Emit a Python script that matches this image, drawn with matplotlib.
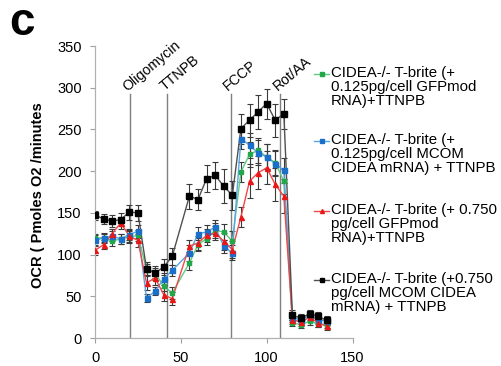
import matplotlib
matplotlib.use("Agg")
import matplotlib.pyplot as plt
from matplotlib.lines import Line2D

plt.rcParams['font.family'] = ['Liberation Sans', 'DejaVu Sans']

# ---- data ----
time_min = [0, 5, 10, 15, 20, 25, 30, 35, 40, 45, 55, 60, 65, 70, 75, 80, 85,
            90, 95, 100, 105, 110, 115, 120, 125, 130, 135]

green_vals = [120, 120, 116, 119, 121, 123, 82, 78, 62, 54, 90, 112, 119, 129, 127, 116,
              199, 220, 225, 217, 210, 188, 18, 16, 20, 17, 16]
green_err = [5, 5, 6, 6, 7, 7, 7, 6, 6, 7, 9, 8, 8, 9, 10, 12, 12, 15, 15, 15, 15, 15, 4, 4, 4, 4, 4]

blue_vals = [117, 120, 122, 119, 124, 128, 48, 56, 71, 81, 102, 125, 127, 133, 110, 102,
             239, 231, 222, 217, 209, 201, 24, 22, 27, 22, 20]
blue_err = [6, 6, 6, 6, 7, 8, 5, 5, 7, 7, 10, 8, 8, 8, 8, 9, 12, 15, 15, 15, 15, 15, 5, 5, 5, 5, 5]

red_vals = [105, 112, 125, 138, 122, 117, 66, 72, 52, 47, 110, 114, 123, 126, 116, 106,
            145, 188, 198, 204, 184, 170, 22, 19, 25, 18, 14]
red_err = [5, 5, 6, 7, 7, 8, 8, 8, 8, 8, 7, 8, 8, 8, 10, 10, 12, 20, 20, 20, 20, 20, 5, 5, 5, 5, 5]

black_vals = [147, 143, 140, 142, 151, 150, 83, 78, 85, 98, 170, 166, 191, 195, 182, 171,
              251, 261, 271, 281, 261, 269, 27, 24, 29, 26, 21]
black_err = [5, 6, 7, 8, 9, 10, 8, 8, 10, 10, 15, 13, 16, 16, 20, 17, 18, 20, 20, 18, 20, 18, 6, 5, 5, 5, 5]

series_labels = [
    "CIDEA-/- T-brite (+\n0.125pg/cell GFPmod\nRNA)+TTNPB",
    "CIDEA-/- T-brite (+\n0.125pg/cell MCOM\nCIDEA mRNA) + TTNPB",
    "CIDEA-/- T-brite (+ 0.750\npg/cell GFPmod\nRNA)+TTNPB",
    "CIDEA-/- T-brite (+0.750\npg/cell MCOM CIDEA\nmRNA) + TTNPB",
]

event_names = ["Oligomycin", "TTNPB", "FCCP", "Rot/AA"]
event_times = [20.5, 42, 79, 108]

x_ticks = [0, 50, 100, 150]
y_ticks = [0, 50, 100, 150, 200, 250, 300, 350]

# ---- styling ----
W, H = 501, 366
fig = plt.figure(figsize=(W / 100, H / 100), dpi=100)
ax = fig.add_axes([95 / W, 1 - 338 / H, (352.5 - 95) / W, (338 - 46) / H])

series = [
    (green_vals, green_err, '#22a84a', '#62c985', 's', 3.0),
    (blue_vals, blue_err, '#1a6fc9', '#5aa5e6', 's', 3.6),
    (red_vals, red_err, '#e81818', '#f04848', '^', 3.6),
    (black_vals, black_err, '#000000', '#505050', 's', 3.8),
]

for vals, err, mc, lc, mk, ms in series:
    ax.errorbar(time_min, vals, yerr=err, fmt='none', ecolor='#3a3a3a',
                elinewidth=0.8, capsize=2.2, capthick=0.8, zorder=2)
    ax.plot(time_min, vals, color=lc, lw=1.0, zorder=3)
    ax.plot(time_min, vals, ls='none', marker=mk, ms=ms, mfc=mc, mec=mc, zorder=4)

for name, t in zip(event_names, event_times):
    ax.plot([t, t], [0, 293], color='#7f7f7f', lw=1.0, zorder=1)
    ax.annotate(name, xy=(t, 293), xytext=(-10, 0), textcoords='offset pixels',
                rotation=40, ha='left', va='bottom', fontsize=10.2, color='#000000')

ax.set_xlim(0, 150)
ax.set_ylim(0, 350)
ax.set_xticks(x_ticks)
ax.set_yticks(y_ticks)
ax.tick_params(axis='both', direction='out', length=3.5, width=0.8, color='#a0a0a0',
               labelsize=10.5, pad=6)
for s in ['top', 'right']:
    ax.spines[s].set_visible(False)
for s in ['left', 'bottom']:
    ax.spines[s].set_color('#b0b0b0')
    ax.spines[s].set_linewidth(0.9)

fig.text(38 / W, 1 - 195 / H, "OCR ( Pmoles O2 /minutes", rotation=90,
         ha='center', va='center', fontsize=10.5, fontweight='bold')

fig.text(9 / W, 1 - 35 / H, "c", fontsize=33, fontweight='bold', va='baseline', ha='left')

# legend (manual, handle aligned to first text line)
entry_y = [74, 141, 211, 280]
for (vals, err, mc, lc, mk, ms), lab, yy in zip(series, series_labels, entry_y):
    yf = 1 - yy / H
    fig.add_artist(Line2D([314 / W, 329 / W], [yf, yf], transform=fig.transFigure,
                          color=lc, lw=1.0))
    fig.add_artist(Line2D([321.5 / W], [yf], transform=fig.transFigure, ls='none',
                          marker=mk, ms=ms * 0.8, mfc=mc, mec=mc))
    fig.text(331 / W, 1 - (yy - 8) / H, lab, fontsize=10.8, va='top', ha='left',
             linespacing=1.0)

fig.savefig("out.png", dpi=100)
